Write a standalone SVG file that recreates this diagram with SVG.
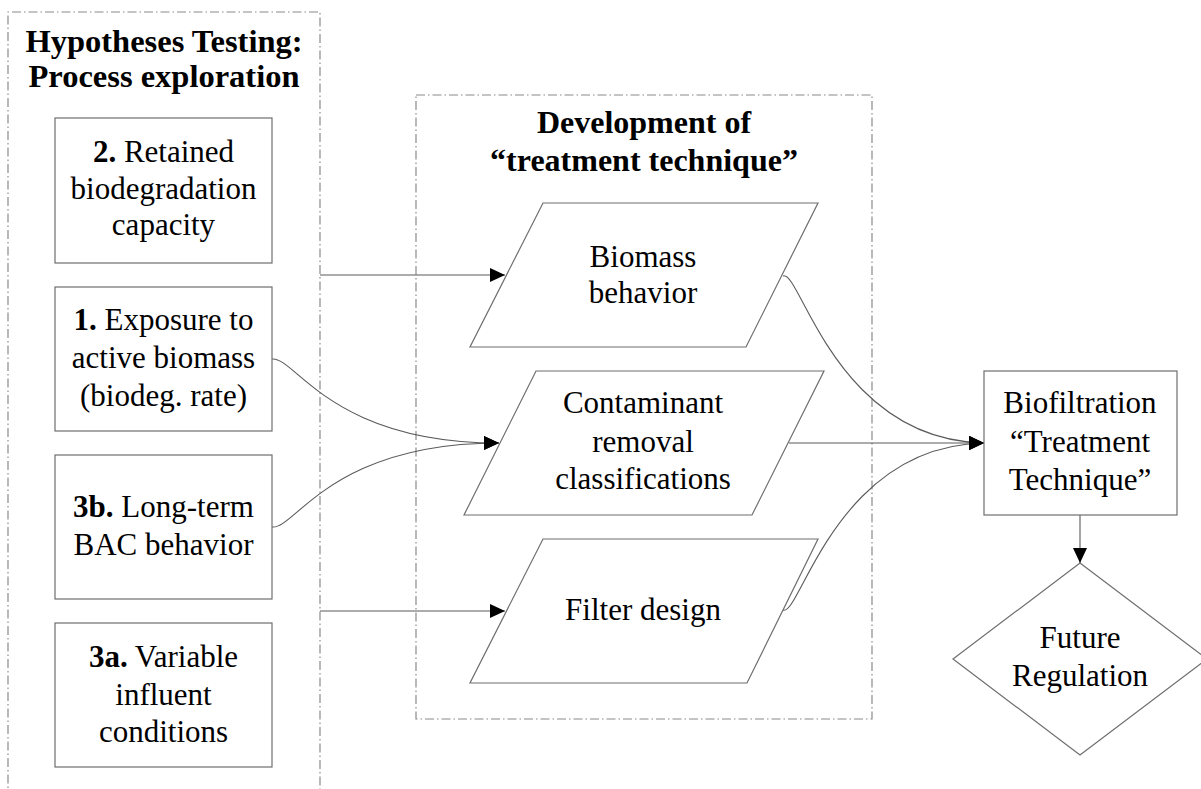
<svg xmlns="http://www.w3.org/2000/svg" width="1201" height="789" viewBox="0 0 1201 789">
  <defs>
    <marker id="arrow" markerUnits="userSpaceOnUse" markerWidth="16" markerHeight="15" refX="15" refY="7" orient="auto">
      <path d="M0,0 L15,7 L0,14 Z" fill="#000"/>
    </marker>
    <style>
      .frame { fill: none; stroke: #8a8a8a; stroke-width: 1.2; stroke-dasharray: 9 3 1.5 3; }
      .shape { fill: #fff; stroke: #6e6e6e; stroke-width: 1.2; }
      .link { fill: none; stroke: #5a5a5a; stroke-width: 1.1; }
      text { font-family: "Liberation Serif", "Times New Roman", serif; font-size: 31px; fill: #000; text-anchor: middle; }
      .title { font-weight: bold; font-size: 32.5px; }
      .num { font-weight: bold; }
    </style>
  </defs>
  <rect width="1201" height="789" fill="#fff"/>

  <!-- group frames -->
  <g id="hypotheses-frame">
    <path class="frame" d="M8,800 V12 H320 V800"/>
    <text class="title" x="164" y="52">Hypotheses Testing:</text>
    <text class="title" x="164" y="87">Process exploration</text>
  </g>
  <g id="development-frame">
    <rect class="frame" x="416" y="95" width="456" height="624"/>
    <text class="title" x="644" y="133" style="font-size:32px">Development of</text>
    <text class="title" x="644" y="171" style="font-size:32px">“treatment technique”</text>
  </g>

  <!-- connectors -->
  <g id="connectors">
    <path class="link" d="M320,275 H505" marker-end="url(#arrow)"/>
    <path class="link" d="M320,611 H505" marker-end="url(#arrow)"/>
    <path class="link" d="M272,359 C295,356 330,443 499,443" marker-end="url(#arrow)"/>
    <path class="link" d="M272,527 C295,530 330,443 499,443" marker-end="url(#arrow)"/>
    <path class="link" d="M783,276 C800,268 835,440 984,443" marker-end="url(#arrow)"/>
    <path class="link" d="M789,443 H984" marker-end="url(#arrow)"/>
    <path class="link" d="M783,610 C800,618 835,446 984,443" marker-end="url(#arrow)"/>
    <path class="link" d="M1080,515 V563" marker-end="url(#arrow)"/>
  </g>

  <!-- hypothesis boxes -->
  <g id="retained-capacity">
    <rect class="shape" x="55" y="118" width="217" height="145"/>
    <text x="163.5" y="162"><tspan class="num">2.</tspan> Retained</text>
    <text x="163.5" y="199">biodegradation</text>
    <text x="163.5" y="235">capacity</text>
  </g>
  <g id="exposure-biomass">
    <rect class="shape" x="55" y="287" width="217" height="144"/>
    <text x="163.5" y="330"><tspan class="num">1.</tspan> Exposure to</text>
    <text x="163.5" y="368">active biomass</text>
    <text x="163.5" y="406">(biodeg. rate)</text>
  </g>
  <g id="long-term-bac">
    <rect class="shape" x="55" y="455" width="217" height="144"/>
    <text x="163.5" y="517"><tspan class="num">3b.</tspan> Long-term</text>
    <text x="163.5" y="555">BAC behavior</text>
  </g>
  <g id="variable-influent">
    <rect class="shape" x="55" y="623" width="217" height="144"/>
    <text x="163.5" y="667"><tspan class="num">3a.</tspan> Variable</text>
    <text x="163.5" y="705">influent</text>
    <text x="163.5" y="742">conditions</text>
  </g>

  <!-- treatment technique inputs -->
  <g id="biomass-behavior">
    <polygon class="shape" points="543,203 818,203 746,347 470,347"/>
    <text x="643" y="267">Biomass</text>
    <text x="643" y="303">behavior</text>
  </g>
  <g id="contaminant-removal">
    <polygon class="shape" points="536,371 824,371 752,515 464,515"/>
    <text x="643" y="413">Contaminant</text>
    <text x="643" y="452">removal</text>
    <text x="643" y="489">classifications</text>
  </g>
  <g id="filter-design">
    <polygon class="shape" points="543,539 818,539 747,683 470,683"/>
    <text x="643" y="620">Filter design</text>
  </g>

  <!-- outcomes -->
  <g id="biofiltration">
    <rect class="shape" x="984" y="371" width="193" height="144"/>
    <text x="1080" y="413">Biofiltration</text>
    <text x="1080" y="452">“Treatment</text>
    <text x="1080" y="490">Technique”</text>
  </g>
  <g id="future-regulation">
    <polygon class="shape" points="1080,563 1207,659 1080,755 953,659"/>
    <text x="1080" y="648">Future</text>
    <text x="1080" y="686">Regulation</text>
  </g>
</svg>
